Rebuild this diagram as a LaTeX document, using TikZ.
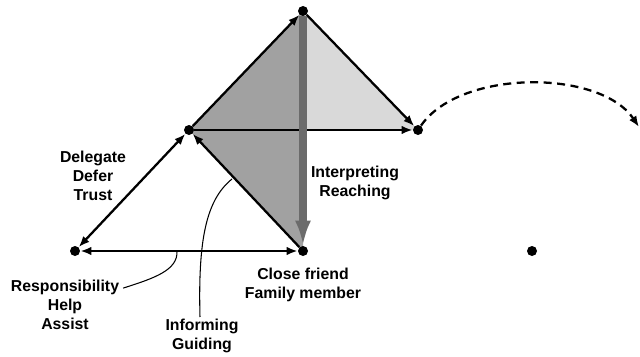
\documentclass[tikz,border=0pt]{standalone}
\usepackage{fontspec}
\setmainfont{Liberation Sans}
\usetikzlibrary{arrows.meta,backgrounds}
\usepackage{xcolor}
\definecolor{darkshade}{gray}{0.63}
\definecolor{lightshade}{gray}{0.85}
\definecolor{reachgray}{gray}{0.42}

\begin{document}
\begin{tikzpicture}[x=0.2mm, y=-0.2mm,
  % Node Styles
  dotnode/.style={circle, fill=black, inner sep=0pt, minimum size=2mm},
  labelnode/.style={align=center, font=\bfseries\fontsize{9}{10.8}\selectfont, inner sep=1pt},
  % Arrow Styles
  solidarrow/.style={-{Latex[length=2.2mm, width=1.7mm]}, line width=1.3pt},
  twowayarrow/.style={{Latex[length=2.2mm, width=1.7mm]}-{Latex[length=2.2mm, width=1.7mm]}, line width=1.3pt},
  reacharrow/.style={-{Latex[length=5mm, width=3.2mm]}, line width=4pt, reachgray},
  dashedarrow/.style={dash pattern=on 1.6mm off 1.1mm, -{Latex[length=2.2mm, width=1.7mm]}, line width=1.3pt},
  leader/.style={line width=0.6pt}
]
\useasboundingbox (0,0) rectangle (640,357);

% Diagram for: helping relations

\node[dotnode] (top) at (303,11) {};
\node[dotnode] (left) at (189,130) {};
\node[dotnode] (right) at (418,130) {};
\node[dotnode] (friend) at (303,251) {};
\node[dotnode] (self) at (75,251) {};
\node[dotnode] (other) at (532,251) {};
\coordinate (away) at (639,127);

\begin{scope}[on background layer]
\fill[darkshade] (left.center) -- (top.center) -- (friend.center) -- cycle;
\fill[lightshade] (top.center) -- (right.center) -- (top.center |- right.center) -- cycle;
\end{scope}

\draw[solidarrow] (left) -- (top);
\draw[solidarrow] (top) -- (right);
\draw[solidarrow] (left) -- (right);
\draw[solidarrow] (friend) -- (left);
\draw[twowayarrow] (self) -- (left);
\draw[twowayarrow] (self) -- (friend);
\draw[reacharrow] (top) -- (friend);
\draw[dashedarrow] (right) .. controls (460,69) and (600,69) .. (away);

\node[labelnode] (delegate) at (93,176) {Delegate\\Defer\\Trust};
\node[labelnode] (interpret) at (355,183) {Interpreting\\Reaching};
\node[labelnode] (close) at (303,285) {Close friend\\Family member};
\node[labelnode] (respons) at (65,305) {Responsibility\\Help\\Assist};
\node[labelnode] (inform) at (202,336) {Informing\\Guiding};

\draw[leader] (respons.north east) ++(2,10) .. controls (155,278) and (178,270) .. (177,251);
\draw[leader] (inform.north) ++(-2,0) .. controls (198,240) and (206,200) .. (232,179);

\end{tikzpicture}
\end{document}
